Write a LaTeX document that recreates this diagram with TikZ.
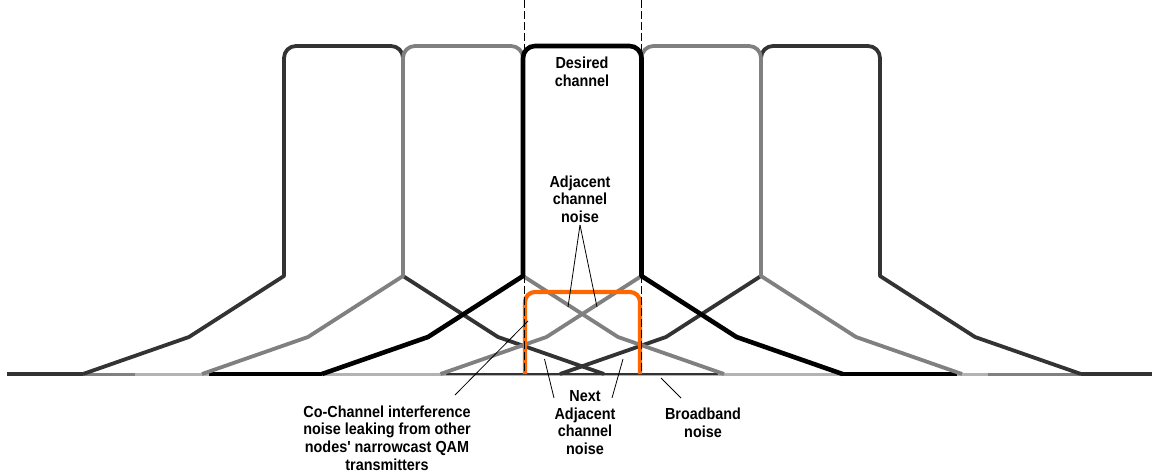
\documentclass[tikz,border=0pt]{standalone}
\usepackage{fontspec}
\newfontfamily\labfont[FakeStretch=0.9]{Liberation Sans}
\definecolor{chdark}{HTML}{333333}
\definecolor{chgray}{HTML}{808080}
\definecolor{chlight}{HTML}{B3B3B3}
\definecolor{qamorange}{HTML}{FF6600}
\tikzset{
  lab/.style={font=\labfont\bfseries\fontsize{16}{17.7}\selectfont, align=center, inner sep=0pt},
  leader/.style={draw=black, line width=0.8pt},
  guide/.style={draw=black, line width=0.7pt, dash pattern=on 8pt off 3pt},
  chline/.style={line width=#1, line join=round},
  baseseg/.style={line width=#1},
}
\newcommand{\chanpath}[4]{% left edge, right edge, colour, width
  \draw[chline=#4, draw=#3] ({#1-201},374) -- ({#1-95},337) -- (#1,276) -- (#1,58)
    arc[start angle=180, end angle=270, radius=12] -- ({#2-12},46)
    arc[start angle=270, end angle=360, radius=12] -- (#2,276) -- ({#2+95},337) -- ({#2+201},374);
}
\begin{document}
\begin{tikzpicture}[x=1pt, y=-1pt]
\useasboundingbox (0,0) rectangle (1152,473);
% baseline
\draw[baseseg=3, draw=chlight] (7,374) -- (1152,374);
\draw[baseseg=3.6, draw=chdark] (7,374) -- (83,374);
\draw[baseseg=3, draw=chgray] (83,374) -- (135,374);
\draw[baseseg=4.5, draw=black] (209,374) -- (322,374);
\draw[baseseg=1.3, draw=chdark] (446,374) -- (718,374);
\draw[baseseg=4.5, draw=black] (842,374) -- (957,374);
\draw[baseseg=3, draw=chgray] (988,374) -- (1081,374);
\draw[baseseg=3.6, draw=chdark] (1081,374) -- (1152,374);
% channels
\chanpath{284}{403}{chdark}{3.8}
\chanpath{761}{880}{chdark}{3.8}
\chanpath{403}{523}{chgray}{3.8}
\chanpath{641.5}{761}{chgray}{3.8}
\chanpath{523}{641.5}{black}{4.6}
% narrowcast QAM (co-channel) shape
\draw[line width=4.2pt, draw=qamorange, line join=round] (525,374) -- (525,302)
  arc[start angle=180, end angle=270, radius=10] -- (630,292)
  arc[start angle=270, end angle=360, radius=10] -- (640,374);
% channel guides
\coordinate (gl0) at (524.5,0); \coordinate (gl1) at (524.5,374);
\coordinate (gr0) at (641,0);   \coordinate (gr1) at (641,374);
\draw[guide] (gl0) -- (gl1);
\draw[guide] (gr0) -- (gr1);
% labels
\node[lab] (desired) at (582,72) {Desired\\channel};
\node[lab] (adj) at (580,199) {Adjacent\\channel\\noise};
\node[lab] (coc) at (387,438) {Co-Channel interference\\noise leaking from other\\nodes' narrowcast QAM\\transmitters};
\node[lab] (next) at (585,422.5) {Next\\Adjacent\\channel\\noise};
\node[lab] (bb) at (703,422.5) {Broadband\\noise};
% leader end points
\coordinate (adjS) at (580,225);
\coordinate (adjL) at (568,307);
\coordinate (adjR) at (597,307);
\coordinate (cocS) at (455,395);
\coordinate (cocE) at (528,321);
\coordinate (nextLS) at (554,398);
\coordinate (nextLE) at (544.5,359);
\coordinate (nextRS) at (612,398);
\coordinate (nextRE) at (623,359);
\coordinate (bbS) at (681,398);
\coordinate (bbE) at (661,378);
\draw[leader] (adjS) -- (adjL);
\draw[leader] (adjS) -- (adjR);
\draw[leader] (cocS) -- (cocE);
\draw[leader] (nextLS) -- (nextLE);
\draw[leader] (nextRS) -- (nextRE);
\draw[leader] (bbS) -- (bbE);
\end{tikzpicture}
\end{document}
